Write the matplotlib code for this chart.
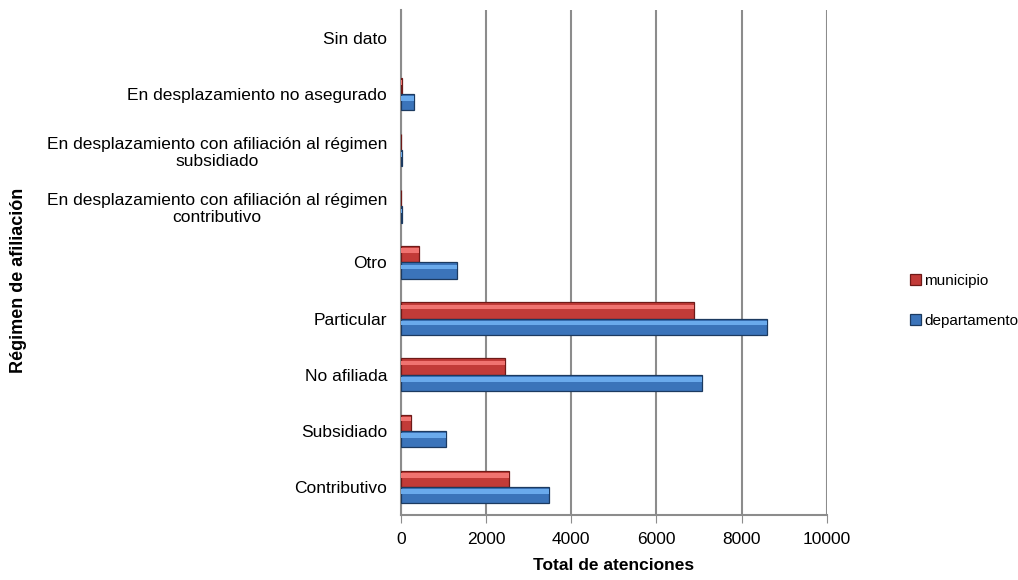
import numpy as np
import matplotlib.pyplot as plt

plt.rcParams['font.family'] = ['Liberation Sans', 'DejaVu Sans']

categorias = ["Contributivo", "Subsidiado", "No afiliada", "Particular", "Otro",
              "En desplazamiento con afiliación al régimen\ncontributivo",
              "En desplazamiento con afiliación al régimen\nsubsidiado",
              "En desplazamiento no asegurado", "Sin dato"]
municipio = [2540, 240, 2450, 6880, 410, 5, 5, 10, 0]
departamento = [3470, 1060, 7060, 8610, 1320, 15, 15, 300, 0]
xticks = [0, 2000, 4000, 6000, 8000, 10000]

y = np.arange(len(categorias))
h = 0.29

fig = plt.figure(figsize=(10.18, 5.8), dpi=100)
ax = fig.add_axes([0.394, 0.112, 0.418, 0.871])


def barras(pos, vals, base, claro, borde, label):
    edges = [borde if v > 0 else 'none' for v in vals]
    ax.barh(pos, vals, height=h, color=base, edgecolor=edges,
            linewidth=0.9, label=label, zorder=3)
    # franja clara superior para imitar el relieve
    ax.barh(pos + h * 0.22, vals, height=h * 0.28, color=claro,
            linewidth=0, zorder=4)


barras(y + h / 2, municipio, "#C23B38", "#F07370", "#6E1A18", "municipio")
barras(y - h / 2, departamento, "#3B74BA", "#6AAAEC", "#1C3A60", "departamento")

ax.set_xlim(0, 10000)
ax.set_ylim(-0.5, len(categorias) - 0.5)
ax.set_xticks(xticks)
ax.set_xticklabels([str(v) for v in xticks], fontsize=12.5)
ax.set_yticks(y)
ax.set_yticklabels(categorias, fontsize=12.5, multialignment='center')
ax.tick_params(axis='y', length=0, pad=10)
ax.tick_params(axis='x', length=6, color='#8c8c8c', pad=6)

ax.grid(axis='x', color='#8c8c8c', linewidth=1.5, zorder=0)
for s in ['top', 'right']:
    ax.spines[s].set_visible(False)
for s in ['left', 'bottom']:
    ax.spines[s].set_color('#8c8c8c')
    ax.spines[s].set_linewidth(1.5)

ax.set_xlabel("Total de atenciones", fontsize=12.5, fontweight='bold', labelpad=8)
fig.text(0.018, 0.517, "Régimen de afiliación", rotation=90, fontsize=13,
         fontweight='bold', ha='center', va='center')

ax.legend(loc='center left', bbox_to_anchor=(1.175, 0.424), frameon=False,
          fontsize=11, handlelength=0.7, handleheight=0.7, handletextpad=0.2,
          labelspacing=1.7, borderaxespad=0.2)

plt.savefig("out.png", dpi=100)
